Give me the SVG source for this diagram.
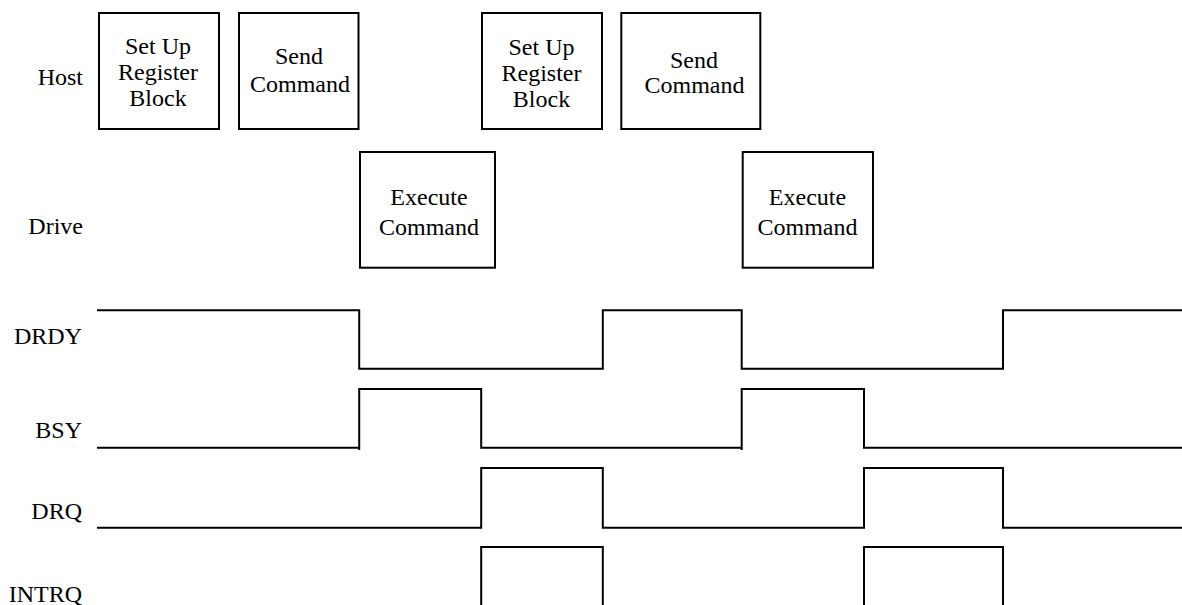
<svg xmlns="http://www.w3.org/2000/svg" width="1182" height="605" viewBox="0 0 1182 605">
<style>
  .box { fill: #ffffff; stroke: #000000; stroke-width: 2; }
  .t { font-family: "Liberation Serif", "Times New Roman", serif; font-size: 24px; fill: #000000; }
  .c { text-anchor: middle; }
  .lbl { text-anchor: end; }
  .sig { fill: none; stroke: #000000; stroke-width: 2; stroke-linejoin: miter; }
</style>
<rect width="1182" height="605" fill="#ffffff"/>

<g id="lane-labels">
  <text class="t lbl" x="83" y="85">Host</text>
  <text class="t lbl" x="83" y="234">Drive</text>
  <text class="t lbl" x="82" y="344">DRDY</text>
  <text class="t lbl" x="82" y="438">BSY</text>
  <text class="t lbl" x="82" y="518.5">DRQ</text>
  <text class="t lbl" x="82" y="601.5">INTRQ</text>
</g>

<g id="host-setup-1">
  <rect class="box" x="99" y="13" width="120" height="116"/>
  <text class="t c" x="158" y="53.5">Set Up</text>
  <text class="t c" x="158" y="79.5">Register</text>
  <text class="t c" x="158" y="105.5">Block</text>
</g>
<g id="host-send-1">
  <rect class="box" x="239" y="13" width="119.5" height="116"/>
  <text class="t c" x="299" y="63.5">Send</text>
  <text class="t c" x="300" y="92">Command</text>
</g>
<g id="host-setup-2">
  <rect class="box" x="482" y="13" width="120" height="116"/>
  <text class="t c" x="541.5" y="54.5">Set Up</text>
  <text class="t c" x="541.5" y="80.5">Register</text>
  <text class="t c" x="541.5" y="106.5">Block</text>
</g>
<g id="host-send-2">
  <rect class="box" x="621.3" y="13" width="139" height="116"/>
  <text class="t c" x="694" y="68.3">Send</text>
  <text class="t c" x="694.5" y="93.3">Command</text>
</g>
<g id="drive-exec-1">
  <rect class="box" x="360" y="152" width="135" height="115.7"/>
  <text class="t c" x="429" y="204.5">Execute</text>
  <text class="t c" x="429" y="234.5">Command</text>
</g>
<g id="drive-exec-2">
  <rect class="box" x="742.7" y="152" width="130.3" height="115.7"/>
  <text class="t c" x="807.5" y="204.5">Execute</text>
  <text class="t c" x="807.5" y="234.5">Command</text>
</g>

<g id="connectors">
  <path id="drdy" class="sig" d="M97,310.3 H359.2 V368.7 H602.8 V310.3 H741.7 V368.7 H1003 V310.3 H1182"/>
  <path id="bsy" class="sig" d="M97,447.7 H359.2 M359.2,450 V389 H481.2 V447.7 H741.7 M741.7,450 V389 H864 V447.7 H1182"/>
  <path id="drq" class="sig" d="M97,527.7 H481.2 V468 H602.8 V527.7 H864 V468 H1003 V527.7 H1182"/>
  <path id="intrq" class="sig" d="M481.2,605 V547 H602.8 V605 M864,605 V547 H1003 V605"/>
</g>
</svg>
